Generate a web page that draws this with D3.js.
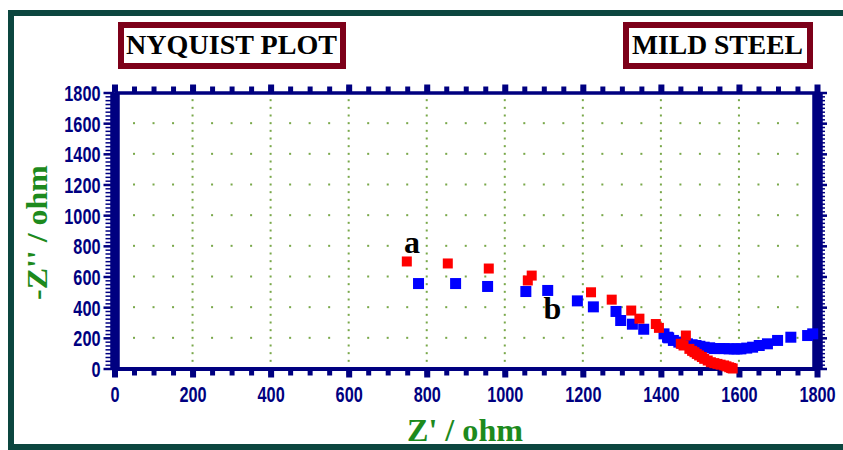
<!DOCTYPE html>
<html>
<head>
<meta charset="utf-8">
<script src="https://cdn.jsdelivr.net/npm/d3@7"></script>
<style>
  body { margin: 0; background: #fff; }
  svg { display: block; }
</style>
</head>
<body>
<div id="chart"></div>
<script>
// Nyquist data: [Z', -Z'']
const seriesA = [
  [749, 698], [854, 685], [959, 652], [1059, 574], [1069, 606], [1221, 497],
  [1274, 449], [1324, 378], [1345, 325], [1387, 290], [1395, 265], [1464, 215],
  [1451, 161], [1458, 150], [1473, 128], [1480, 115], [1486, 106], [1492, 95],
  [1498, 85], [1505, 75], [1511, 63], [1520, 52], [1528, 41], [1537, 35],
  [1545, 30], [1553, 25], [1562, 20], [1568, 14], [1575, 8], [1580, 3], [1584, 0]
];
const seriesB = [
  [779, 554], [874, 554], [956, 535], [1054, 502], [1110, 509], [1186, 441],
  [1227, 402], [1285, 372], [1297, 313], [1327, 289], [1356, 256], [1408, 226],
  [1417, 204], [1420, 200], [1432, 183], [1446, 172], [1455, 165], [1468, 161],
  [1480, 155], [1490, 150], [1500, 145], [1511, 139], [1525, 135], [1537, 130],
  [1550, 130], [1562, 130], [1575, 128], [1588, 128], [1595, 128], [1605, 128],
  [1620, 133], [1635, 139], [1652, 150], [1673, 161], [1699, 183], [1733, 204],
  [1776, 215], [1789, 226]
];
const seriesLabels = [
  { text: 'a', x: 742, y: 753 },
  { text: 'b', x: 1099, y: 323 }
];
const xTicks = [0, 200, 400, 600, 800, 1000, 1200, 1400, 1600, 1800];
const yTicks = [0, 200, 400, 600, 800, 1000, 1200, 1400, 1600, 1800];
const titles = ['NYQUIST PLOT', 'MILD STEEL'];

const width = 843;
const height = 450;
const navy = '#000080';
const gridColor = '#79a84a';
const titleGreen = '#1d8a1d';

const svg = d3.select('#chart').append('svg')
  .attr('width', width)
  .attr('height', height);

// outer frame
svg.append('rect')
  .attr('x', 11).attr('y', 13)
  .attr('width', 900).attr('height', 434)
  .attr('fill', 'none')
  .attr('stroke', '#0c463f')
  .attr('stroke-width', 6);

// title boxes
const boxes = [
  { x: 121, w: 222, tx: 126, tw: 211 },
  { x: 626, w: 184, tx: 632, tw: 171 }
];
boxes.forEach((b, i) => {
  svg.append('rect')
    .attr('x', b.x).attr('y', 25)
    .attr('width', b.w).attr('height', 41)
    .attr('fill', '#fff')
    .attr('stroke', '#7d0019')
    .attr('stroke-width', 6);
  svg.append('text')
    .attr('x', b.tx).attr('y', 54)
    .attr('textLength', b.tw)
    .attr('lengthAdjust', 'spacingAndGlyphs')
    .style('font-family', '"Liberation Serif", "Times New Roman", serif')
    .style('font-weight', 'bold')
    .style('font-size', '27px')
    .attr('fill', '#000')
    .text(titles[i]);
});

const x = d3.scaleLinear().domain([0, 1800]).range([114.5, 817]);
const y = d3.scaleLinear().domain([0, 1800]).range([368.5, 92.5]);

// dotted grid
const grid = svg.append('g');
const gridCols = xTicks.slice(1, -1);
const gridRows = yTicks.slice(1, -1);
gridCols.forEach(c => {
  grid.selectAll(null)
    .data(d3.range(50, 1800, 50))
    .enter().append('rect')
    .attr('x', x(c) - 1).attr('y', d => y(d) - 1)
    .attr('width', 2).attr('height', 2)
    .attr('fill', gridColor);
});
gridRows.forEach(r => {
  grid.selectAll(null)
    .data(d3.range(50, 1800, 50).filter(v => v % 200 !== 0))
    .enter().append('rect')
    .attr('x', d => x(d) - 1).attr('y', y(r) - 1)
    .attr('width', 2).attr('height', 2)
    .attr('fill', gridColor);
});

function styleAxis(g, tickWidth, domainWidth) {
  g.selectAll('line').attr('stroke', navy).attr('stroke-width', tickWidth);
  g.select('.domain').attr('stroke', navy).attr('stroke-width', domainWidth);
}

const labelFont = '"Liberation Sans", Arial, sans-serif';

// bottom axis
const xMinor = d3.range(0, 1801, 50);
svg.append('g')
  .attr('transform', `translate(0,${y(0)})`)
  .call(d3.axisBottom(x).tickValues(xMinor).tickSize(7).tickSizeOuter(0).tickFormat(''))
  .call(g => styleAxis(g, 5, 4));
svg.append('g')
  .attr('transform', `translate(0,${y(0)})`)
  .call(d3.axisBottom(x).tickValues(xTicks).tickSize(9).tickSizeOuter(0).tickFormat(d3.format('d')))
  .call(g => styleAxis(g, 6, 4))
  .call(g => g.selectAll('text')
    .attr('y', 0).attr('dy', 0)
    .attr('transform', 'translate(0,33) scale(0.74,1)')
    .attr('fill', navy)
    .style('font-family', labelFont)
    .style('font-weight', 'bold')
    .style('font-size', '22px'));

// top axis
svg.append('g')
  .attr('transform', `translate(0,${y(1800)})`)
  .call(d3.axisTop(x).tickValues(xMinor).tickSize(6).tickSizeOuter(0).tickFormat(''))
  .call(g => styleAxis(g, 5, 3));
svg.append('g')
  .attr('transform', `translate(0,${y(1800)})`)
  .call(d3.axisTop(x).tickValues(xTicks).tickSize(8).tickSizeOuter(0).tickFormat(''))
  .call(g => styleAxis(g, 6, 3));

// left axis
const yMinor = d3.range(0, 1801, 25);
svg.append('g')
  .attr('transform', `translate(${x(0)},0)`)
  .call(d3.axisLeft(y).tickValues(yMinor).tickSize(9).tickSizeOuter(0).tickFormat(''))
  .call(g => styleAxis(g, 1.5, 9));
svg.append('g')
  .attr('transform', `translate(${x(0)},0)`)
  .call(d3.axisLeft(y).tickValues(yTicks).tickSize(11).tickSizeOuter(0).tickFormat(d3.format('d')))
  .call(g => styleAxis(g, 2.5, 9))
  .call(g => g.selectAll('text')
    .attr('x', 0).attr('dy', '0.36em')
    .attr('transform', 'translate(-14,0) scale(0.74,1)')
    .attr('fill', navy)
    .style('font-family', labelFont)
    .style('font-weight', 'bold')
    .style('font-size', '22px'));

// right axis
svg.append('g')
  .attr('transform', `translate(${x(1800)},0)`)
  .call(d3.axisRight(y).tickValues(yMinor).tickSize(8).tickSizeOuter(0).tickFormat(''))
  .call(g => styleAxis(g, 1.5, 10));
svg.append('g')
  .attr('transform', `translate(${x(1800)},0)`)
  .call(d3.axisRight(y).tickValues(yTicks).tickSize(10).tickSizeOuter(0).tickFormat(''))
  .call(g => styleAxis(g, 2.5, 10));

// data squares
const plot = svg.append('g');
plot.selectAll('.pb')
  .data(seriesB)
  .enter().append('rect')
  .attr('class', 'pb')
  .attr('x', d => x(d[0]) - 5.5)
  .attr('y', d => y(d[1]) - 5.5)
  .attr('width', 11).attr('height', 11)
  .attr('fill', '#0000ff');
plot.selectAll('.pa')
  .data(seriesA)
  .enter().append('rect')
  .attr('class', 'pa')
  .attr('x', d => x(d[0]) - 5)
  .attr('y', d => y(d[1]) - 5)
  .attr('width', 10).attr('height', 10)
  .attr('fill', '#ff0000');

// series labels
svg.selectAll('.slabel')
  .data(seriesLabels)
  .enter().append('text')
  .attr('class', 'slabel')
  .attr('x', d => x(d.x))
  .attr('y', d => y(d.y))
  .style('font-family', '"Liberation Serif", "Times New Roman", serif')
  .style('font-weight', 'bold')
  .style('font-size', '32px')
  .attr('fill', '#000')
  .text(d => d.text);

// axis titles
svg.append('text')
  .attr('x', 407).attr('y', 441)
  .attr('textLength', 116)
  .attr('lengthAdjust', 'spacingAndGlyphs')
  .style('font-family', '"Liberation Serif", "Times New Roman", serif')
  .style('font-weight', 'bold')
  .style('font-size', '32px')
  .attr('fill', titleGreen)
  .text("Z' / ohm");

svg.append('text')
  .attr('transform', 'translate(47,300) rotate(-90)')
  .attr('textLength', 135)
  .attr('lengthAdjust', 'spacingAndGlyphs')
  .style('font-family', '"Liberation Serif", "Times New Roman", serif')
  .style('font-weight', 'bold')
  .style('font-size', '29px')
  .attr('fill', titleGreen)
  .text("-Z'' / ohm");
</script>
</body>
</html>
